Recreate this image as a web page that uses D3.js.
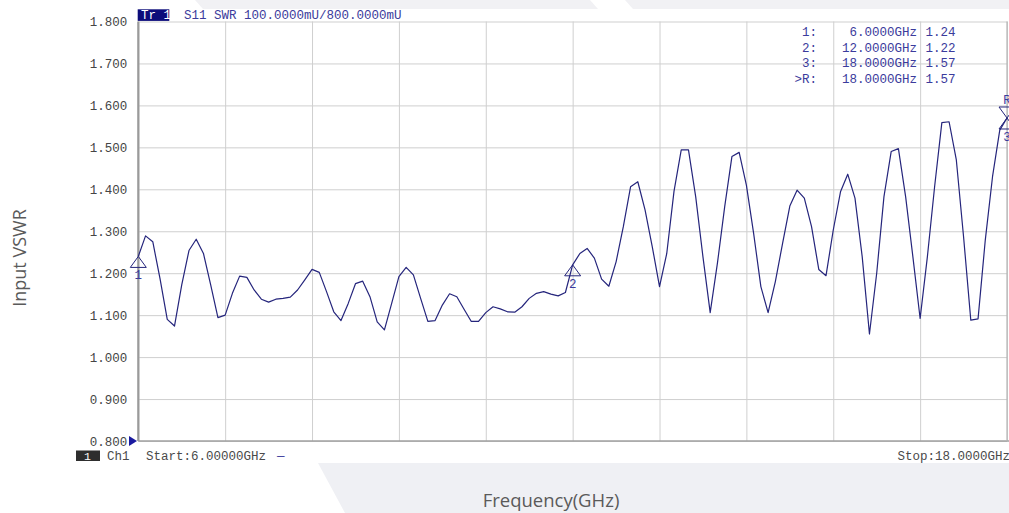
<!DOCTYPE html>
<html>
<head>
<meta charset="utf-8">
<script src="https://cdn.jsdelivr.net/npm/d3@7"></script>
<style>
  body { margin: 0; background: #fff; }
  svg { display: block; }
  .vna { font-family: "Liberation Mono", "DejaVu Sans Mono", monospace; font-size: 12.5px; }
</style>
</head>
<body>
<svg id="chart" width="1009" height="513"></svg>
<script>
// S11 SWR trace, 6 - 18 GHz, 121 points (100 MHz step)
var startGHz = 6;
var stopGHz = 18;
var stepGHz = 0.1;
var swr = [
  1.240, 1.289, 1.275, 1.187, 1.090, 1.074, 1.172, 1.254, 1.281, 1.247,
  1.172, 1.094, 1.100, 1.152, 1.193, 1.190, 1.160, 1.138, 1.131, 1.138,
  1.140, 1.143, 1.160, 1.184, 1.209, 1.202, 1.156, 1.108, 1.087, 1.128,
  1.175, 1.181, 1.144, 1.084, 1.065, 1.128, 1.192, 1.214, 1.196, 1.140,
  1.085, 1.087, 1.124, 1.151, 1.144, 1.114, 1.085, 1.085, 1.106, 1.120,
  1.115, 1.108, 1.107, 1.120, 1.140, 1.152, 1.156, 1.150, 1.146, 1.154,
  1.220, 1.247, 1.259, 1.236, 1.186, 1.169, 1.227, 1.311, 1.406, 1.418,
  1.351, 1.263, 1.168, 1.247, 1.395, 1.494, 1.494, 1.382, 1.239, 1.106,
  1.224, 1.358, 1.478, 1.488, 1.410, 1.295, 1.168, 1.106, 1.180, 1.271,
  1.360, 1.398, 1.379, 1.311, 1.209, 1.194, 1.303, 1.394, 1.436, 1.379,
  1.239, 1.055, 1.200, 1.382, 1.490, 1.497, 1.382, 1.239, 1.092, 1.239,
  1.406, 1.559, 1.561, 1.470, 1.287, 1.088, 1.091, 1.279, 1.430, 1.541,
  1.570
];

var yTicks = [0.8, 0.9, 1.0, 1.1, 1.2, 1.3, 1.4, 1.5, 1.6, 1.7, 1.8];
var xGrid = d3.range(0, 11).map(function(i) { return startGHz + i * 1.2; });

// markers: id, frequency, side the triangle sits on
var markerIds = ['1', '2', '3', 'R'];
var markerFreqs = [6, 12, 18, 18];
var markerTable = [
  ['1:', '6.0000GHz', '1.24'],
  ['2:', '12.0000GHz', '1.22'],
  ['3:', '18.0000GHz', '1.57'],
  ['>R:', '18.0000GHz', '1.57']
];

var svg = d3.select('#chart');
var blue = '#3b3b9c';
var navy = '#25257c';

var x = d3.scaleLinear().domain([startGHz, stopGHz]).range([138.3, 1007]);
var y = d3.scaleLinear().domain([0.8, 1.8]).range([441, 21.5]);

// background decoration
svg.append('polygon').attr('points', '195,0 590,0 598,9 203,9').attr('fill', '#f1f1f4');
svg.append('polygon').attr('points', '625,0 1009,0 1009,9 633,9').attr('fill', '#f1f1f4');
svg.append('polygon').attr('points', '318,463 1009,463 1009,513 345,513').attr('fill', '#eff0f4');

// grid
svg.append('g')
  .attr('transform', 'translate(0,441)')
  .call(d3.axisBottom(x).tickValues(xGrid).tickSize(-(441 - 21.5)).tickFormat(''))
  .call(function(g) {
    g.select('.domain').remove();
    g.selectAll('line').attr('stroke', '#cfcfcf');
  });

svg.append('g')
  .attr('class', 'vna')
  .attr('transform', 'translate(138.3,0)')
  .call(d3.axisLeft(y).tickValues(yTicks).tickSize(-(1007 - 138.3)).tickPadding(11).tickFormat(d3.format('.3f')))
  .call(function(g) {
    g.select('.domain').remove();
    g.selectAll('line').attr('stroke', '#cfcfcf');
    g.selectAll('text').attr('fill', '#454545').attr('font-size', '12.5px').attr('font-family', '"Liberation Mono", monospace');
  });

// frame lines
svg.append('line').attr('x1', 138.3).attr('x2', 138.3).attr('y1', 21.5).attr('y2', 441)
  .attr('stroke', '#9a9a9a').attr('stroke-width', 2.2);
svg.append('line').attr('x1', 138.3).attr('x2', 1009).attr('y1', 441).attr('y2', 441)
  .attr('stroke', '#a0a0a0').attr('stroke-width', 1.4);
svg.append('line').attr('x1', 1007).attr('x2', 1007).attr('y1', 21.5).attr('y2', 441)
  .attr('stroke', '#b5b5b5').attr('stroke-width', 1.2);

// reference arrow at 0.800
svg.append('path')
  .attr('d', 'M' + 129 + ',' + (y(0.8) - 5) + 'l8,5l-8,5z')
  .attr('fill', '#1a1aa0');

// trace
var line = d3.line()
  .x(function(d, i) { return x(startGHz + i * stepGHz); })
  .y(function(d) { return y(d); });

svg.append('path')
  .datum(swr)
  .attr('d', line)
  .attr('fill', 'none')
  .attr('stroke', navy)
  .attr('stroke-width', 1.2)
  .attr('stroke-linejoin', 'round');

// markers
markerIds.forEach(function(id, k) {
  var f = markerFreqs[k];
  var v = swr[Math.round((f - startGHz) / stepGHz)];
  var px = x(f), py = y(v);
  var dir = id == 'R' ? -1 : 1;
  svg.append('path')
    .attr('d', 'M' + px + ',' + py + 'l-8,' + (11 * dir) + 'h16z')
    .attr('fill', 'none').attr('stroke', navy).attr('stroke-width', 1);
  svg.append('text')
    .attr('class', 'vna')
    .attr('x', px).attr('y', dir > 0 ? py + 23 : py - 14)
    .attr('text-anchor', 'middle')
    .attr('font-size', '11.5px')
    .attr('fill', blue)
    .text(id);
});

// header
svg.append('rect').attr('x', 137.7).attr('y', 9.3).attr('width', 31.6).attr('height', 11.6).attr('fill', '#0c0c7a');
svg.append('text').attr('class', 'vna').attr('x', 141).attr('y', 19).attr('fill', '#fff').attr('font-size', '11.5px').text('Tr 1');
svg.append('text').attr('class', 'vna').attr('x', 184).attr('y', 19).attr('fill', blue)
  .text('S11 SWR 100.0000mU/800.0000mU');

// marker readout
var rows = svg.append('g').attr('class', 'vna').attr('fill', blue);
markerTable.forEach(function(r, i) {
  var by = 36 + i * 15.7;
  rows.append('text').attr('x', 817).attr('y', by).attr('text-anchor', 'end').text(r[0]);
  rows.append('text').attr('x', 917).attr('y', by).attr('text-anchor', 'end').text(r[1]);
  rows.append('text').attr('x', 925.5).attr('y', by).text(r[2]);
});

// footer
svg.append('rect').attr('x', 76).attr('y', 450.5).attr('width', 24).attr('height', 10.5).attr('fill', '#2e2e2e');
var foot = svg.append('g').attr('class', 'vna').attr('fill', '#4a4a4a');
foot.append('text').attr('x', 84).attr('y', 460).attr('fill', '#fff').attr('font-size', '11.5px').text('1');
foot.append('text').attr('x', 107).attr('y', 460).text('Ch1');
foot.append('text').attr('x', 146).attr('y', 460).text('Start:' + startGHz.toFixed(5) + 'GHz');
foot.append('text').attr('x', 277).attr('y', 460).attr('fill', blue).text('\u2014');
foot.append('text').attr('x', 1010).attr('y', 460).attr('text-anchor', 'end').text('Stop:' + stopGHz.toFixed(4) + 'GHz');

// axis titles
svg.append('text')
  .attr('transform', 'translate(26,258) rotate(-90)')
  .attr('text-anchor', 'middle')
  .attr('font-family', '"Open Sans", sans-serif')
  .attr('font-size', '18px')
  .attr('fill', '#5a5a5a')
  .text('Input VSWR');

svg.append('text')
  .attr('x', 551).attr('y', 507)
  .attr('text-anchor', 'middle')
  .attr('font-family', '"Open Sans", sans-serif')
  .attr('font-size', '18.5px')
  .attr('fill', '#5a5a5a')
  .text('Frequency(GHz)');
</script>
</body>
</html>
